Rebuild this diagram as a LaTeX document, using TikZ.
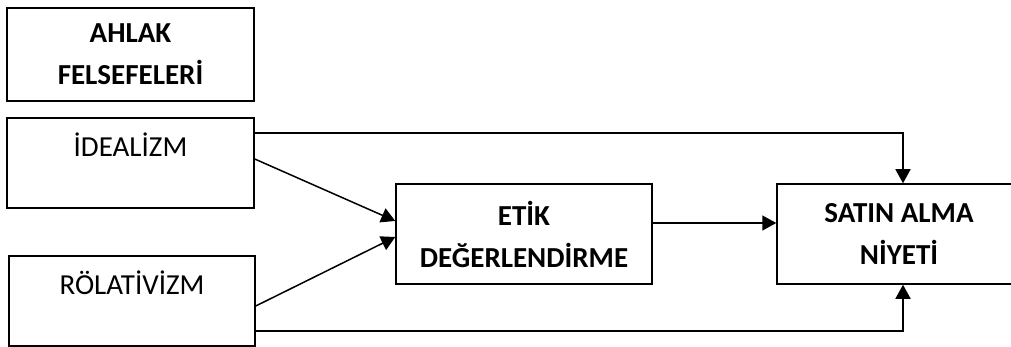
\documentclass[tikz,border=0pt]{standalone}
\usepackage{fontspec}
\setmainfont{Carlito}
\usetikzlibrary{arrows.meta}
\begin{document}
\begin{tikzpicture}[x=1pt,y=-1pt,
  box/.style={draw=black, line width=1.5pt, inner sep=0pt, align=center,
    font=\bfseries\fontsize{29}{42}\selectfont},
  plainbox/.style={draw=black, line width=1.5pt, inner sep=0pt},
  txt/.style={inner sep=0pt, font=\fontsize{29}{42}\selectfont},
  conn/.style={line width=1.5pt, -{Triangle[length=14pt,width=15pt]}}]
\clip (0,0) rectangle (1011,347);
\node[box, minimum width=247pt, minimum height=93pt] (ahlak) at (130.5,54.5) {AHLAK\\FELSEFELERİ};
\node[plainbox, minimum width=247pt, minimum height=90pt] (idea) at (130.5,163) {};
\node[txt, anchor=base] (ideat) at (130.5,157) {İDEALİZM};
\node[plainbox, minimum width=246pt, minimum height=90pt] (rel) at (132,301) {};
\node[txt, anchor=base] (relt) at (132,294) {RÖLATİVİZM};
\node[box, minimum width=256pt, minimum height=100pt] (etik) at (524,234) {ETİK\\DEĞERLENDİRME};
\node[box, minimum width=244pt, minimum height=100pt] (satin) at (899,234) {SATIN ALMA\\NİYETİ};
\draw[conn] ([yshift=30pt]idea.east) -| ([xshift=4pt]satin.north);
\draw[conn] ([yshift=4pt]idea.east) -- ([yshift=13pt]etik.west);
\draw[conn] ([yshift=-5pt]rel.east) -- ([yshift=-3pt]etik.west);
\draw[conn] ([yshift=-30pt]rel.east) -| ([xshift=4pt]satin.south);
\draw[conn] ([yshift=11pt]etik.east) -- ([yshift=11pt]satin.west);
\end{tikzpicture}
\end{document}
